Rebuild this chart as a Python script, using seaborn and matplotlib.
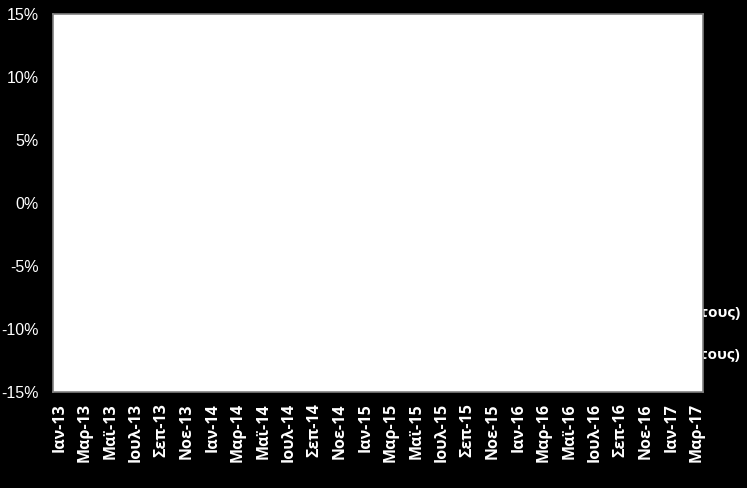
import numpy as np
import pandas as pd
import matplotlib
matplotlib.use("Agg")
import matplotlib.pyplot as plt
import seaborn as sns

# monthly categories Jan-13 .. Mar-17 (every 2nd one labelled)
month_names = ["Ιαν", "Φεβ", "Μαρ", "Απρ", "Μαϊ", "Ιουν",
               "Ιουλ", "Αυγ", "Σεπ", "Οκτ", "Νοε", "Δεκ"]
years = ["13", "14", "15", "16", "17"]
months = [f"{m}-{y}" for y in years for m in month_names][:51]

y_ticks = [-0.15, -0.10, -0.05, 0.0, 0.05, 0.10, 0.15]
y_tick_labels = ["-15%", "-10%", "-5%", "0%", "5%", "10%", "15%"]

# legend entries (mostly hidden behind the plot area in the original)
legend_labels = ["Πληθωρισμός (% μεταβολή έναντι προηγούμενου έτους)",
                 "Μισθοί (% μεταβολή έναντι προηγούμενου έτους)"]

sns.set_style("white")
plt.rcParams["font.family"] = ["Liberation Sans", "DejaVu Sans"]

fig = plt.figure(figsize=(7.47, 4.88), dpi=100, facecolor="black")
ax = fig.add_axes([53 / 747, 1 - 392 / 488, 650 / 747, 378 / 488])
ax.set_facecolor("white")
ax.set_zorder(1)

ax.set_xlim(-0.5, len(months) - 0.5)
ax.set_ylim(-0.15, 0.15)

ax.set_yticks(y_ticks)
ax.set_yticklabels(y_tick_labels, color="white", fontsize=11.5)
ax.set_xticks(range(0, len(months), 2))
ax.set_xticklabels(months[::2], rotation=90, color="white",
                   fontsize=11.5, fontweight="bold",
                   family=["Open Sans", "DejaVu Sans"])
ax.tick_params(axis="y", length=0, pad=10.5)
ax.tick_params(axis="x", length=0, pad=8)

for s in ax.spines.values():
    s.set_color("#808080")
    s.set_linewidth(1.2)

# legend text sits behind the white plot area
for lab, ypos in zip(legend_labels, [312, 354]):
    fig.text(740 / 747, 1 - ypos / 488, lab, color="white", fontsize=11,
             fontweight="bold", ha="right", va="center",
             family=["Open Sans", "DejaVu Sans"], zorder=-1)

fig.savefig("out.png", dpi=100, facecolor="black")
